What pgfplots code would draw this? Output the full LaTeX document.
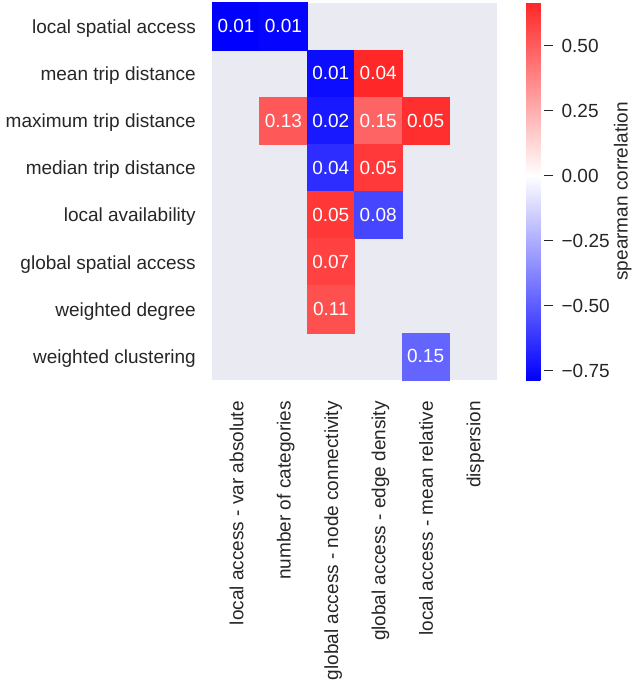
\documentclass[border=0pt]{standalone}
\usepackage{pgfplots}
\usepackage{pgfplotstable}
\usepackage{fontspec}
\setmainfont{Liberation Sans}
\pgfplotsset{compat=1.18}

\definecolor{panelbg}{HTML}{EAEAF2}
\definecolor{labelgray}{HTML}{262626}

% significant spearman correlations (corr) with their p-values (p)
% x: attribute column, y: metric row (row 0 at the top)
\pgfplotstableread{
x y corr p
0 0 -0.786 0.01
1 0 -0.775 0.01
2 1 -0.750 0.01
3 1 0.665 0.04
1 2 0.515 0.13
2 2 -0.710 0.02
3 2 0.478 0.15
4 2 0.640 0.05
2 3 -0.648 0.04
3 3 0.610 0.05
2 4 0.615 0.05
3 4 -0.570 0.08
2 5 0.586 0.07
2 6 0.540 0.11
4 7 -0.478 0.15
}\corrdata

\newcommand{\lblfont}{\fontsize{19bp}{22bp}\selectfont}

\begin{document}
\begin{tikzpicture}
\path[use as bounding box] (-212.3bp,-304bp) rectangle (419.7bp,380bp);
\begin{axis}[
  at={(0,0)}, anchor=south west,
  scale only axis,
  width=284.4bp, height=377.3bp,
  xmin=-0.5, xmax=5.5, ymin=-0.5, ymax=7.5,
  y dir=reverse,
  axis background/.style={fill=panelbg},
  axis line style={draw=none},
  major tick length=0pt,
  xtick={0,...,5}, ytick={0,...,7},
  xticklabels={local access - var absolute, number of categories,
    global access - node connectivity, global access - edge density,
    local access - mean relative, dispersion},
  yticklabels={local spatial access, mean trip distance,
    maximum trip distance, median trip distance, local availability,
    global spatial access, weighted degree, weighted clustering},
  xticklabel style={xshift=7.3bp, rotate=90, anchor=base east, inner sep=0pt,
    font=\lblfont, text=labelgray},
  yticklabel style={anchor=base east, yshift=-7bp, inner sep=0pt,
    font=\lblfont, text=labelgray},
  xticklabel shift=21bp,
  yticklabel shift=16.3bp,
  colormap={bwrsns}{rgb255(0cm)=(0,0,255); rgb255(7.86cm)=(255,255,255);
    rgb255(14.51cm)=(255,39,39)},
  point meta min=-0.786, point meta max=0.665,
  colorbar,
  colorbar style={
    at={(parent axis.north east)}, anchor=north west, xshift=21bp,
    scale only axis, width=18bp,
    axis line style={draw=none},
    ytick={-0.75,-0.5,-0.25,0,0.25,0.5},
    yticklabels={−0.75,−0.50,−0.25,0.00,0.25,0.50},
    ytick pos=right, tick align=outside,
    major tick length=9bp,
    tick style={draw=labelgray, line width=1.2bp},
    yticklabel style={font=\lblfont, text=labelgray, inner sep=0pt, anchor=west},
    yticklabel shift=8.2bp,
    ylabel={spearman correlation},
    ylabel style={font=\lblfont, text=labelgray, inner sep=0pt,
      at={(axis description cs:5.63,0.5)}, anchor=base},
  },
]
% coloured cells
\addplot[
  scatter, only marks, mark=square*, mark size=23.7bp,
  scatter/use mapped color={draw=mapped color, fill=mapped color},
  point meta=\thisrow{corr},
] table[x=x, y=y] {\corrdata};
% p-value annotations
\addplot[
  only marks, mark=none,
  point meta=\thisrow{corr},
  visualization depends on={\thisrow{p} \as \pval},
  nodes near coords={\pgfmathprintnumber[fixed, precision=2, zerofill]{\pval}},
  nodes near coords align={center},
  every node near coord/.append style={font=\lblfont, text=white, inner sep=0pt,
    /pgf/number format/assume math mode=true},
] table[x=x, y=y] {\corrdata};
\end{axis}
\end{tikzpicture}
\end{document}
